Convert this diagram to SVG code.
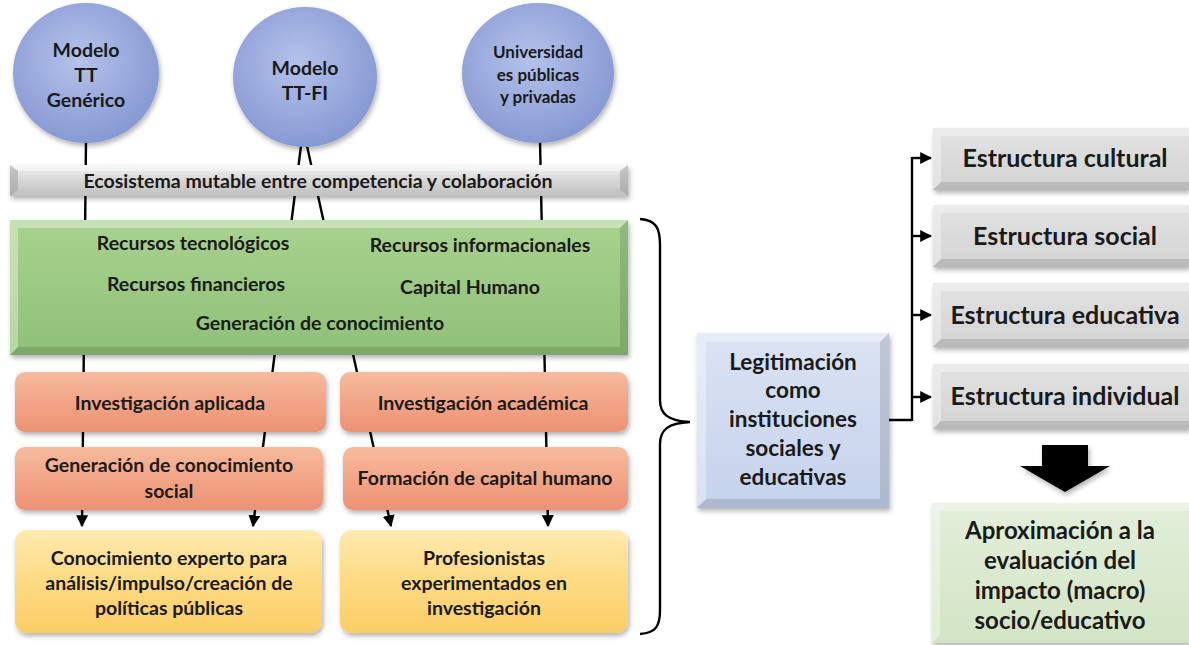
<svg xmlns="http://www.w3.org/2000/svg" width="1189" height="645" viewBox="0 0 1189 645">
<defs>
<style>
text{font-family:Lato,"Open Sans","Liberation Sans",sans-serif;font-weight:bold;fill:#1a1a1a;text-anchor:middle}
.c{font-size:19.5px}
.u{font-size:17px}
.m{font-size:19.5px}
.g{font-size:22.5px}
.e{font-size:25px}
.a{font-size:24px}
.ln{stroke:#000;stroke-width:2.4;fill:none}
.hl{fill:#fff;opacity:.35}
.dk{fill:#000;opacity:.12}
</style>
<radialGradient id="gc" cx="45%" cy="40%" r="60%">
<stop offset="0" stop-color="#b4c2ea"/>
<stop offset="1" stop-color="#8799d3"/>
</radialGradient>
<linearGradient id="gg" x1="0" y1="0" x2="0" y2="1">
<stop offset="0" stop-color="#f4f4f4"/>
<stop offset="0.5" stop-color="#d6d6d6"/>
<stop offset="1" stop-color="#c0c0c0"/>
</linearGradient>
<linearGradient id="ggr" x1="0" y1="0" x2="0" y2="1">
<stop offset="0" stop-color="#a8d28f"/>
<stop offset="1" stop-color="#8fc077"/>
</linearGradient>
<linearGradient id="gor" x1="0" y1="0" x2="0" y2="1">
<stop offset="0" stop-color="#f6bb9e"/>
<stop offset="0.5" stop-color="#f2a587"/>
<stop offset="1" stop-color="#ec9273"/>
</linearGradient>
<linearGradient id="gy" x1="0" y1="0" x2="0" y2="1">
<stop offset="0" stop-color="#feeab0"/>
<stop offset="0.5" stop-color="#fdda82"/>
<stop offset="1" stop-color="#fbcd66"/>
</linearGradient>
<linearGradient id="gb" x1="0" y1="0" x2="0" y2="1">
<stop offset="0" stop-color="#dbe3f3"/>
<stop offset="1" stop-color="#c5d2ec"/>
</linearGradient>
<linearGradient id="gs" x1="0" y1="0" x2="0" y2="1">
<stop offset="0" stop-color="#e2e2e2"/>
<stop offset="1" stop-color="#d3d3d3"/>
</linearGradient>
<linearGradient id="gl" x1="0" y1="0" x2="0" y2="1">
<stop offset="0" stop-color="#e3eeda"/>
<stop offset="1" stop-color="#d3e4c5"/>
</linearGradient>
<filter id="sh" x="-10%" y="-10%" width="120%" height="130%">
<feDropShadow dx="1.5" dy="3" stdDeviation="2.5" flood-color="#000" flood-opacity="0.3"/>
</filter>
<marker id="ah" viewBox="0 0 10 10" refX="9" refY="5" markerWidth="5" markerHeight="5" orient="auto">
<path d="M0,0 L10,5 L0,10 z" fill="#000"/>
</marker>
</defs>
<rect width="1189" height="645" fill="#fff"/>

<g id="connectors">
<line class="ln" x1="86" y1="140" x2="82" y2="526" marker-end="url(#ah)"/>
<line class="ln" x1="301" y1="146" x2="253" y2="526" marker-end="url(#ah)"/>
<line class="ln" x1="307" y1="146" x2="391" y2="526" marker-end="url(#ah)"/>
<line class="ln" x1="540" y1="140" x2="548" y2="526" marker-end="url(#ah)"/>
<path class="ln" d="M889,420 H912 M912,157 V421"/>
<line class="ln" x1="912" y1="158" x2="931" y2="158" marker-end="url(#ah)"/>
<line class="ln" x1="912" y1="236" x2="931" y2="236" marker-end="url(#ah)"/>
<line class="ln" x1="912" y1="315" x2="931" y2="315" marker-end="url(#ah)"/>
<line class="ln" x1="912" y1="397" x2="931" y2="397" marker-end="url(#ah)"/>
<path class="ln" d="M640,219 C656,220 660,228 660,245 V400 C660,414 668,421 690,422 C668,423 660,430 660,444 V610 C660,626 656,633 640,634"/>
<path d="M1042,445 H1088 V466 H1110 L1065,492 L1020,466 H1042 Z" fill="#000" filter="url(#sh)"/>
</g>

<g id="c1">
<ellipse cx="86" cy="73" rx="73" ry="70" fill="url(#gc)" filter="url(#sh)"/>
<text class="c" x="86" y="57">Modelo</text>
<text class="c" x="86" y="82">TT</text>
<text class="c" x="86" y="107">Genérico</text>
</g>
<g id="c2">
<ellipse cx="305" cy="77" rx="72" ry="70" fill="url(#gc)" filter="url(#sh)"/>
<text class="c" x="305" y="75">Modelo</text>
<text class="c" x="305" y="100">TT-FI</text>
</g>
<g id="c3">
<ellipse cx="538" cy="73" rx="76" ry="70" fill="url(#gc)" filter="url(#sh)"/>
<text class="u" x="538" y="58">Universidad</text>
<text class="u" x="538" y="81">es públicas</text>
<text class="u" x="538" y="103">y privadas</text>
</g>

<g id="eco">
<rect x="10" y="165" width="618" height="31" fill="url(#gg)" filter="url(#sh)"/>
<polygon class="hl" points="10,165 628,165 620,171 18,171"/>
<polygon points="10,165 18,171 18,190 10,196" fill="#9a9a9a" opacity=".5"/>
<polygon points="628,165 620,171 620,190 628,196" fill="#9a9a9a" opacity=".5"/>
<text class="m" x="318" y="188">Ecosistema mutable entre competencia y colaboración</text>
</g>

<g id="recursos">
<rect x="10" y="220" width="618" height="135" fill="url(#ggr)" filter="url(#sh)"/>
<polygon class="hl" points="10,220 628,220 620,228 18,228"/>
<polygon class="hl" points="10,220 18,228 18,347 10,355"/>
<polygon class="dk" points="628,220 620,228 620,347 628,355"/>
<polygon class="dk" points="10,355 18,347 620,347 628,355"/>
<text class="m" x="193" y="250">Recursos tecnológicos</text>
<text class="m" x="480" y="252">Recursos informacionales</text>
<text class="m" x="196" y="291">Recursos financieros</text>
<text class="m" x="470" y="294">Capital Humano</text>
<text class="m" x="320" y="330">Generación de conocimiento</text>
</g>

<g id="inv-aplicada">
<rect x="15" y="372" width="311" height="60" rx="10" fill="url(#gor)" filter="url(#sh)"/>
<text class="m" x="170" y="410">Investigación aplicada</text>
</g>
<g id="inv-academica">
<rect x="340" y="372" width="288" height="60" rx="10" fill="url(#gor)" filter="url(#sh)"/>
<text class="m" x="483" y="410">Investigación académica</text>
</g>
<g id="gen-social">
<rect x="15" y="447" width="308" height="63" rx="10" fill="url(#gor)" filter="url(#sh)"/>
<text class="m" x="169" y="472">Generación de conocimiento</text>
<text class="m" x="169" y="498">social</text>
</g>
<g id="formacion">
<rect x="343" y="447" width="285" height="63" rx="10" fill="url(#gor)" filter="url(#sh)"/>
<text class="m" x="485" y="485">Formación de capital humano</text>
</g>
<g id="conocimiento-experto">
<rect x="15" y="530" width="307" height="103" rx="12" fill="url(#gy)" filter="url(#sh)"/>
<text class="m" x="169" y="565">Conocimiento experto para</text>
<text class="m" x="169" y="590">análisis/impulso/creación  de</text>
<text class="m" x="169" y="615">políticas públicas</text>
</g>
<g id="profesionistas">
<rect x="340" y="530" width="288" height="103" rx="12" fill="url(#gy)" filter="url(#sh)"/>
<text class="m" x="484" y="565">Profesionistas</text>
<text class="m" x="484" y="590">experimentados en</text>
<text class="m" x="484" y="615">investigación</text>
</g>

<g id="legitimacion">
<rect x="697" y="333" width="192" height="175" fill="url(#gb)" filter="url(#sh)"/>
<polygon class="hl" points="697,333 889,333 880,342 706,342"/>
<polygon class="hl" points="697,333 706,342 706,499 697,508"/>
<polygon class="dk" points="889,333 880,342 880,499 889,508"/>
<polygon class="dk" points="697,508 706,499 880,499 889,508"/>
<text class="g" x="793" y="370">Legitimación</text>
<text class="g" x="793" y="398">como</text>
<text class="g" x="793" y="427">instituciones</text>
<text class="g" x="793" y="456">sociales y</text>
<text class="g" x="793" y="485">educativas</text>
</g>

<g id="est-cultural">
<rect x="933" y="128" width="256" height="62" fill="url(#gs)" filter="url(#sh)"/>
<polygon class="hl" points="933,128 1189,128 1189,136 941,136"/>
<polygon class="hl" points="933,128 941,136 941,182 933,190"/>
<polygon class="dk" points="933,190 941,182 1189,182 1189,190"/>
<text class="e" x="1065" y="167">Estructura cultural</text>
</g>
<g id="est-social">
<rect x="933" y="205" width="256" height="62" fill="url(#gs)" filter="url(#sh)"/>
<polygon class="hl" points="933,205 1189,205 1189,213 941,213"/>
<polygon class="hl" points="933,205 941,213 941,259 933,267"/>
<polygon class="dk" points="933,267 941,259 1189,259 1189,267"/>
<text class="e" x="1065" y="245">Estructura social</text>
</g>
<g id="est-educativa">
<rect x="933" y="283" width="256" height="64" fill="url(#gs)" filter="url(#sh)"/>
<polygon class="hl" points="933,283 1189,283 1189,291 941,291"/>
<polygon class="hl" points="933,283 941,291 941,339 933,347"/>
<polygon class="dk" points="933,347 941,339 1189,339 1189,347"/>
<text class="e" x="1065" y="324">Estructura educativa</text>
</g>
<g id="est-individual">
<rect x="933" y="364" width="256" height="65" fill="url(#gs)" filter="url(#sh)"/>
<polygon class="hl" points="933,364 1189,364 1189,372 941,372"/>
<polygon class="hl" points="933,364 941,372 941,421 933,429"/>
<polygon class="dk" points="933,429 941,421 1189,421 1189,429"/>
<text class="e" x="1065" y="405">Estructura individual</text>
</g>

<g id="aproximacion">
<rect x="932" y="503" width="257" height="140" fill="url(#gl)" filter="url(#sh)"/>
<polygon class="hl" points="932,503 1189,503 1189,511 940,511"/>
<polygon class="hl" points="932,503 940,511 940,635 932,643"/>
<text class="a" x="1060" y="539">Aproximación a la</text>
<text class="a" x="1060" y="569">evaluación del</text>
<text class="a" x="1060" y="599">impacto (macro)</text>
<text class="a" x="1060" y="629">socio/educativo</text>
</g>
</svg>
